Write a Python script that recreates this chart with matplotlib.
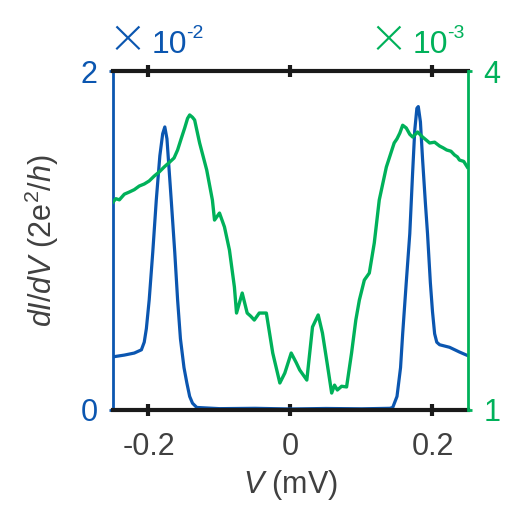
import numpy as np
import matplotlib.pyplot as plt

plt.rcParams['font.family'] = ['Liberation Sans', 'DejaVu Sans']
plt.rcParams['mathtext.fontset'] = 'custom'
plt.rcParams['mathtext.rm'] = 'Liberation Sans'
plt.rcParams['mathtext.it'] = 'Liberation Sans:italic'

# Blue curve (left axis, x10^-2)
v_blue = [-0.251, -0.234, -0.220, -0.210, -0.206, -0.203, -0.199, -0.194, -0.189,
          -0.184, -0.180, -0.177, -0.174, -0.171, -0.168, -0.163, -0.159, -0.155,
          -0.150, -0.146, -0.142, -0.138, -0.132, -0.100, -0.050, 0.000, 0.050,
          0.100, 0.140, 0.144, 0.150, 0.155, 0.158, 0.163, 0.168, 0.172, 0.175,
          0.178, 0.180, 0.183, 0.186, 0.190, 0.193, 0.197, 0.200, 0.203, 0.206,
          0.210, 0.224, 0.238, 0.249]
g_blue = [0.313, 0.324, 0.336, 0.355, 0.40, 0.48, 0.65, 0.93, 1.24,
          1.50, 1.63, 1.67, 1.60, 1.42, 1.24, 0.93, 0.65, 0.42,
          0.25, 0.16, 0.08, 0.04, 0.015, 0.008, 0.010, 0.006, 0.009,
          0.007, 0.010, 0.015, 0.08, 0.25, 0.45, 0.75, 1.04, 1.40, 1.65,
          1.78, 1.79, 1.70, 1.48, 1.22, 1.04, 0.75, 0.58, 0.45, 0.40,
          0.385, 0.370, 0.342, 0.322]

# Green curve (right axis, x10^-3)
v_green = [-0.251, -0.246, -0.241, -0.234, -0.227, -0.220, -0.213, -0.206, -0.199,
           -0.192, -0.185, -0.178, -0.170, -0.164, -0.159, -0.154, -0.149, -0.145,
           -0.142, -0.138, -0.135, -0.128, -0.118, -0.110, -0.107, -0.100, -0.093,
           -0.086, -0.079, -0.076, -0.068, -0.061, -0.056, -0.051, -0.044, -0.034,
           -0.025, -0.015, -0.008, 0.001, 0.008, 0.013, 0.023, 0.031, 0.039, 0.045,
           0.052, 0.058, 0.062, 0.066, 0.072, 0.079, 0.086, 0.092, 0.097, 0.104,
           0.111, 0.118, 0.125, 0.135, 0.146, 0.150, 0.154, 0.158, 0.163, 0.168,
           0.172, 0.179, 0.186, 0.191, 0.196, 0.203, 0.210, 0.215, 0.220, 0.226,
           0.231, 0.235, 0.238, 0.244, 0.249]
g_green = [2.832, 2.870, 2.860, 2.910, 2.929, 2.950, 2.982, 3.000, 3.027,
           3.070, 3.106, 3.150, 3.195, 3.230, 3.301, 3.400, 3.496, 3.580,
           3.611, 3.590, 3.566, 3.363, 3.124, 2.858, 2.681, 2.743, 2.620,
           2.416, 2.088, 1.858, 2.035, 1.858, 1.830, 1.796, 1.858, 1.858,
           1.504, 1.239, 1.327, 1.504, 1.420, 1.354, 1.265, 1.735, 1.841, 1.681,
           1.398, 1.150, 1.220, 1.177, 1.210, 1.204, 1.504, 1.796, 1.973, 2.150,
           2.212, 2.478, 2.858, 3.150, 3.363, 3.400, 3.451, 3.520, 3.496, 3.440,
           3.416, 3.460, 3.416, 3.390, 3.363, 3.370, 3.336, 3.320, 3.301, 3.290,
           3.257, 3.240, 3.212, 3.200, 3.150]

blue = '#0b56b0'
green = '#00b15a'
gray = '#404040'

fig = plt.figure(figsize=(5.06, 5.09), dpi=100)
ax = fig.add_axes([0.2233, 0.1945, 0.7016, 0.666])
ax2 = ax.twinx()

ax.plot(v_blue, g_blue, color=blue, lw=2.3)
ax2.plot(v_green, g_green, color=green, lw=2.4)

ax.set_xlim(-0.25, 0.25)
ax.set_ylim(0, 2)
ax2.set_ylim(1, 4)
ax.set_xticks([-0.2, 0, 0.2])
ax.set_xticklabels(['-0.2', '0', '0.2'])
ax.set_yticks([0, 2])
ax2.set_yticks([1, 4])

for s in ['top', 'bottom']:
    ax.spines[s].set_color('#1a1a1a')
    ax.spines[s].set_linewidth(3)
    ax2.spines[s].set_visible(False)
ax.spines['left'].set_color(blue)
ax.spines['left'].set_linewidth(2)
ax.spines['right'].set_visible(False)
ax2.spines['left'].set_visible(False)
ax2.spines['right'].set_color(green)
ax2.spines['right'].set_linewidth(2)

ax.tick_params(axis='x', which='both', top=True, bottom=True, direction='inout',
               length=8, width=3, color='#1a1a1a', labelsize=22,
               labelcolor=gray, pad=12)
ax.tick_params(axis='y', direction='out', length=3, width=2, color=blue,
               labelsize=22, labelcolor=blue, pad=8)
ax2.tick_params(axis='y', direction='out', length=3, width=2, color=green,
                labelsize=22, labelcolor=green, pad=8)

ax.set_xlabel(r'$\mathit{V}$ (mV)', fontsize=22, color=gray, labelpad=4)
ax.set_ylabel(r'$\mathit{dI/dV}$ (2e$^2$/$\mathit{h}$)', fontsize=22, color=gray,
              labelpad=14)

# multiplier labels
for x0, exp, col in [(0.0, '-2', blue), (0.735, '-3', green)]:
    ax.text(x0 - 0.006, 1.086, '×', transform=ax.transAxes, fontsize=42,
            family='Lato', fontweight=300, color=col, ha='left', va='center')
    ax.text(x0 + 0.11, 1.053, '10', transform=ax.transAxes, fontsize=23,
            color=col, ha='left', va='baseline')
    ax.text(x0 + 0.205, 1.098, exp, transform=ax.transAxes, fontsize=14,
            color=col, ha='left', va='baseline')

fig.savefig('out.png', dpi=100)
